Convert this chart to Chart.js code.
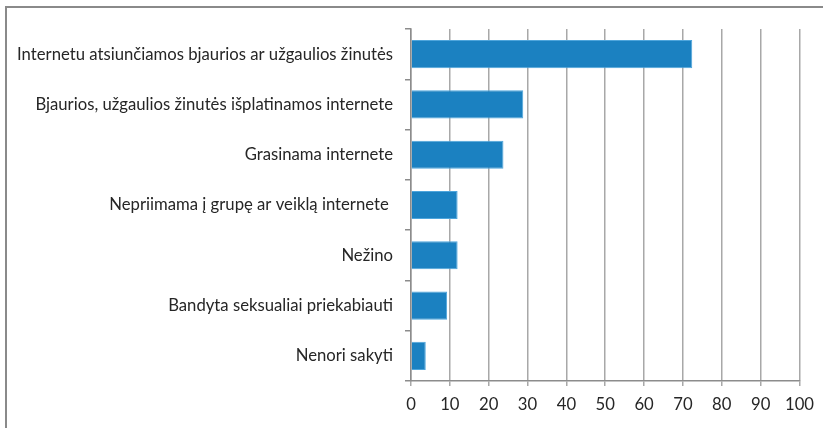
<!DOCTYPE html>
<html>
<head>
<meta charset="utf-8">
<script src="https://cdn.jsdelivr.net/npm/chart.js@4"></script>
<style>
    html, body { margin: 0; padding: 0; background: #fff; overflow: hidden; }
    #frame {
        position: absolute; left: 5px; top: 6px; width: 840px; height: 450px;
        border: 2px solid #8a8a8a; box-sizing: border-box;
    }
    #wrap { position: absolute; left: 0; top: 0; width: 823px; height: 428px; }
</style>
</head>
<body>
<div id="frame"></div>
<div id="wrap"><canvas id="chart" width="823" height="428"></canvas></div>
<script>
const categories = [
    'Internetu atsiunčiamos bjaurios ar užgaulios žinutės',
    'Bjaurios, užgaulios žinutės išplatinamos internete',
    'Grasinama internete',
    'Nepriimama į grupę ar veiklą internete ',
    'Nežino',
    'Bandyta seksualiai priekabiauti',
    'Nenori sakyti'
];
const values = [72.4, 28.9, 23.8, 12.0, 12.0, 9.3, 3.8];
const xTicks = [0, 10, 20, 30, 40, 50, 60, 70, 80, 90, 100];

const labelFont = { family: 'Lato', size: 16.7 };

new Chart(document.getElementById('chart').getContext('2d'), {
    type: 'bar',
    data: {
        labels: categories,
        datasets: [{
            data: values,
            backgroundColor: '#1b81c1',
            borderColor: '#4ea5dc',
            borderWidth: 1,
            borderSkipped: 'start',
            categoryPercentage: 1,
            barPercentage: 0.56
        }]
    },
    options: {
        indexAxis: 'y',
        responsive: false,
        animation: false,
        layout: { padding: { top: 29, right: 23, left: 0, bottom: 0 } },
        plugins: { legend: { display: false }, tooltip: { enabled: false } },
        scales: {
            x: {
                min: 0,
                max: 100,
                afterBuildTicks: (scale) => { scale.ticks = xTicks.map(v => ({ value: v })); },
                afterFit: (scale) => { scale.height = 47; },
                grid: { color: '#a8a8a8', lineWidth: 1.5, tickLength: 5, drawTicks: true },
                border: { color: '#8c8c8c', width: 1.5 },
                ticks: { color: '#262626', font: labelFont, padding: 9, maxRotation: 0 }
            },
            y: {
                afterFit: (scale) => { scale.width = 411; },
                grid: { drawOnChartArea: false, offset: true, color: '#8c8c8c', tickLength: 6, lineWidth: 1.5 },
                border: { color: '#8c8c8c', width: 1.5 },
                ticks: { color: '#262626', font: labelFont, padding: 12 }
            }
        }
    }
});
</script>
</body>
</html>
